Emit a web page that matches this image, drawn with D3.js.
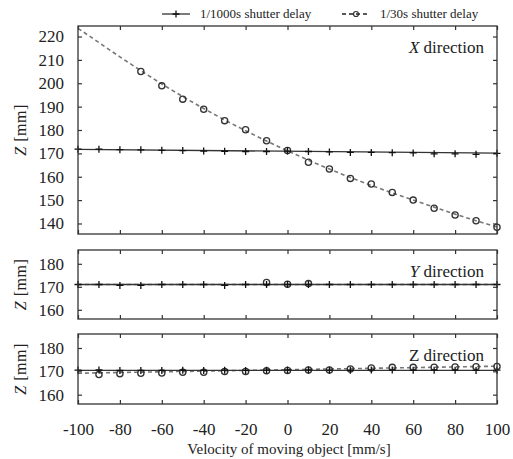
<!doctype html>
<html>
<head>
    <meta charset="UTF-8">
    <script type="text/javascript" src="https://cdn.jsdelivr.net/npm/d3@7"></script>
    <style>
        body { margin: 0; background: #fff; }
        text { font-family: "Liberation Serif", "Times New Roman", serif; fill: #222; }
    </style>
</head>
<body>
<svg id="chart"></svg>
<script type="text/javascript">
// data
var xTicks = [-100, -80, -60, -40, -20, 0, 20, 40, 60, 80, 100];
var xPts = [-100, -90, -80, -70, -60, -50, -40, -30, -20, -10, 0, 10, 20, 30, 40, 50, 60, 70, 80, 90, 100];
var xEnds = [-100, 100];

// X direction
var xFast = [171.8, 171.8, 171.6, 171.5, 171.3, 171.2, 171.0, 170.9, 170.8, 170.8, 171.0, 170.8, 170.6, 170.4, 170.4, 170.3, 170.2, 169.8, 169.8, 169.6, 170.0];
var xFastFit = [171.7, 170.1];
var xSlowX = [-70, -60, -50, -40, -30, -20, -10, 0, 10, 20, 30, 40, 50, 60, 70, 80, 90, 100];
var xSlow = [205.0, 198.9, 193.2, 188.9, 184.0, 180.1, 175.4, 171.2, 166.2, 163.3, 159.3, 156.9, 153.3, 150.0, 146.5, 143.6, 141.2, 138.4];
var xSlowFit = [223.5, 217.4, 211.3, 205.4, 199.7, 194.3, 189.2, 184.3, 179.7, 175.3, 171.1, 167.1, 163.3, 159.7, 156.3, 153.1, 150.0, 147.0, 144.0, 141.2, 138.5];

// Y direction
var yFast = [171.0, 171.0, 170.6, 170.6, 171.0, 171.0, 171.0, 170.6, 171.0, 171.0, 171.0, 171.0, 171.0, 171.0, 171.0, 171.0, 171.0, 171.0, 171.0, 171.0, 171.0];
var yFastFit = [171.0, 171.0];
var ySlowX = [-10, 0, 10];
var ySlow = [171.9, 171.1, 171.4];
var ySlowFit = [171.0, 171.0];

// Z direction
var zFast = [170.5, 170.6, 170.4, 170.4, 170.4, 170.5, 170.4, 170.5, 170.4, 170.5, 170.6, 170.6, 170.5, 170.5, 170.6, 170.6, 170.5, 170.5, 170.5, 170.4, 170.5];
var zFastFit = [170.4, 170.4];
var zSlowX = [-90, -80, -70, -60, -50, -40, -30, -20, -10, 0, 10, 20, 30, 40, 50, 60, 70, 80, 90, 100];
var zSlow = [168.6, 169.0, 169.2, 169.3, 169.6, 169.6, 169.9, 169.9, 170.2, 170.4, 170.6, 170.6, 171.0, 171.4, 171.7, 171.7, 171.8, 171.9, 172.0, 172.1];
var zSlowFit = [169.2, 172.2];

var panelLabels = ["X", "Y", "Z"];
var yDomains = [[135.5, 224.5], [156, 186], [156, 186]];
var yTickVals = [[140, 150, 160, 170, 180, 190, 200, 210, 220], [160, 170, 180], [160, 170, 180]];

var legendNames = ["1/1000s shutter delay", "1/30s shutter delay"];

var width = 513, height = 459;
var left = 78, right = 497;
var tops = [26, 250, 334], bottoms = [234, 319, 404];

var svg = d3.select("#chart").attr("width", width).attr("height", height);

var x = d3.scaleLinear().domain([-100, 100]).range([left, right]);

function plusPath(cx, cy, s) {
    return "M" + (cx - s) + "," + cy + "H" + (cx + s) + "M" + cx + "," + (cy - s) + "V" + (cy + s);
}

// plain hyphen for negatives, like the original
function fmt(d) { return String(d); }

var panels = [
    {fast: xFast, fastFit: xFastFit, slowX: xSlowX, slow: xSlow, slowFitX: xPts, slowFit: xSlowFit},
    {fast: yFast, fastFit: yFastFit, slowX: ySlowX, slow: ySlow, slowFitX: xEnds, slowFit: ySlowFit},
    {fast: zFast, fastFit: zFastFit, slowX: zSlowX, slow: zSlow, slowFitX: xEnds, slowFit: zSlowFit}
];

panels.forEach(function(p, i) {
    var y = d3.scaleLinear().domain(yDomains[i]).range([bottoms[i], tops[i]]);
    var g = svg.append("g");

    // clip to plot area
    var cid = "clip" + i;
    svg.append("clipPath").attr("id", cid).append("rect")
        .attr("x", left).attr("y", tops[i]).attr("width", right - left).attr("height", bottoms[i] - tops[i]);

    // axes, ticks inward on all four sides
    var ax = [
        {a: d3.axisLeft(y).tickValues(yTickVals[i]).tickSize(-4).tickPadding(14).tickFormat(fmt), t: "translate(" + left + ",0)"},
        {a: d3.axisRight(y).tickValues(yTickVals[i]).tickSize(-4).tickFormat(""), t: "translate(" + right + ",0)"},
        {a: d3.axisTop(x).tickValues(xTicks).tickSize(-4).tickFormat(""), t: "translate(0," + tops[i] + ")"},
        {a: d3.axisBottom(x).tickValues(xTicks).tickSize(-4).tickPadding(19).tickFormat(i == 2 ? fmt : ""), t: "translate(0," + bottoms[i] + ")"}
    ];
    ax.forEach(function(d) {
        var s = g.append("g").attr("transform", d.t).call(d.a);
        s.select(".domain").remove();
        s.selectAll("line").attr("stroke", "#333").attr("stroke-width", 1.2);
        s.selectAll("text").style("font-size", "17px").style("font-family", "Liberation Serif, serif").attr("fill", "#222");
    });

    var plot = g.append("g").attr("clip-path", "url(#" + cid + ")");

    // 1/30s fit, dashed
    var slowLine = d3.line().x(function(d, k) { return x(p.slowFitX[k]); }).y(function(d) { return y(d); }).curve(d3.curveMonotoneX);
    plot.append("path").datum(p.slowFit).attr("d", slowLine)
        .attr("fill", "none").attr("stroke", "#777").attr("stroke-width", 1.6).attr("stroke-dasharray", "4,3");

    // 1/1000s fit, solid
    var fastLine = d3.line().x(function(d, k) { return x(xEnds[k]); }).y(function(d) { return y(d); });
    plot.append("path").datum(p.fastFit).attr("d", fastLine)
        .attr("fill", "none").attr("stroke", "#333").attr("stroke-width", 1.3);

    // circles
    g.selectAll(".c" + i).data(p.slow).enter().append("circle")
        .attr("cx", function(d, k) { return x(p.slowX[k]); })
        .attr("cy", function(d) { return y(d); })
        .attr("r", 3.1)
        .attr("fill", "none").attr("stroke", "#333").attr("stroke-width", 1.3);

    // plus markers
    g.selectAll(".p" + i).data(p.fast).enter().append("path")
        .attr("d", function(d, k) { return plusPath(x(xPts[k]), y(d), 3.5); })
        .attr("stroke", "#111").attr("stroke-width", 1.3);

    // border
    g.append("rect").attr("x", left).attr("y", tops[i]).attr("width", right - left).attr("height", bottoms[i] - tops[i])
        .attr("fill", "none").attr("stroke", "#333").attr("stroke-width", 1.3);

    // panel label
    var t = g.append("text").attr("x", 484).attr("y", tops[i] + 27).attr("text-anchor", "end").style("font-size", "17px");
    t.append("tspan").style("font-style", i == 2 ? "normal" : "italic").text(panelLabels[i]);
    t.append("tspan").text(" direction");

    // y title
    var yt = g.append("text").attr("transform", "translate(26," + (tops[i] + bottoms[i]) / 2 + ") rotate(-90)")
        .attr("text-anchor", "middle").style("font-size", "16px").style("letter-spacing", "0.5px");
    yt.append("tspan").style("font-style", "italic").text("Z");
    yt.append("tspan").text(" [mm]");
});

// x title
svg.append("text").attr("x", 289).attr("y", 454).attr("text-anchor", "middle").style("font-size", "15px")
    .text("Velocity of moving object [mm/s]");

// legend
var leg = svg.append("g");
leg.append("line").attr("x1", 162).attr("x2", 190).attr("y1", 14).attr("y2", 14).attr("stroke", "#333").attr("stroke-width", 1.3);
leg.append("path").attr("d", plusPath(176, 14, 3.5)).attr("stroke", "#111").attr("stroke-width", 1.3);
leg.append("text").attr("x", 200).attr("y", 18).style("font-size", "13px").text(legendNames[0]);
leg.append("line").attr("x1", 342).attr("x2", 370).attr("y1", 14).attr("y2", 14).attr("stroke", "#222").attr("stroke-width", 1.6).attr("stroke-dasharray", "4,3");
leg.append("circle").attr("cx", 356).attr("cy", 14).attr("r", 2.5).attr("fill", "none").attr("stroke", "#333").attr("stroke-width", 1.2);
leg.append("text").attr("x", 380).attr("y", 18).style("font-size", "13px").text(legendNames[1]);
</script>
</body>
</html>
